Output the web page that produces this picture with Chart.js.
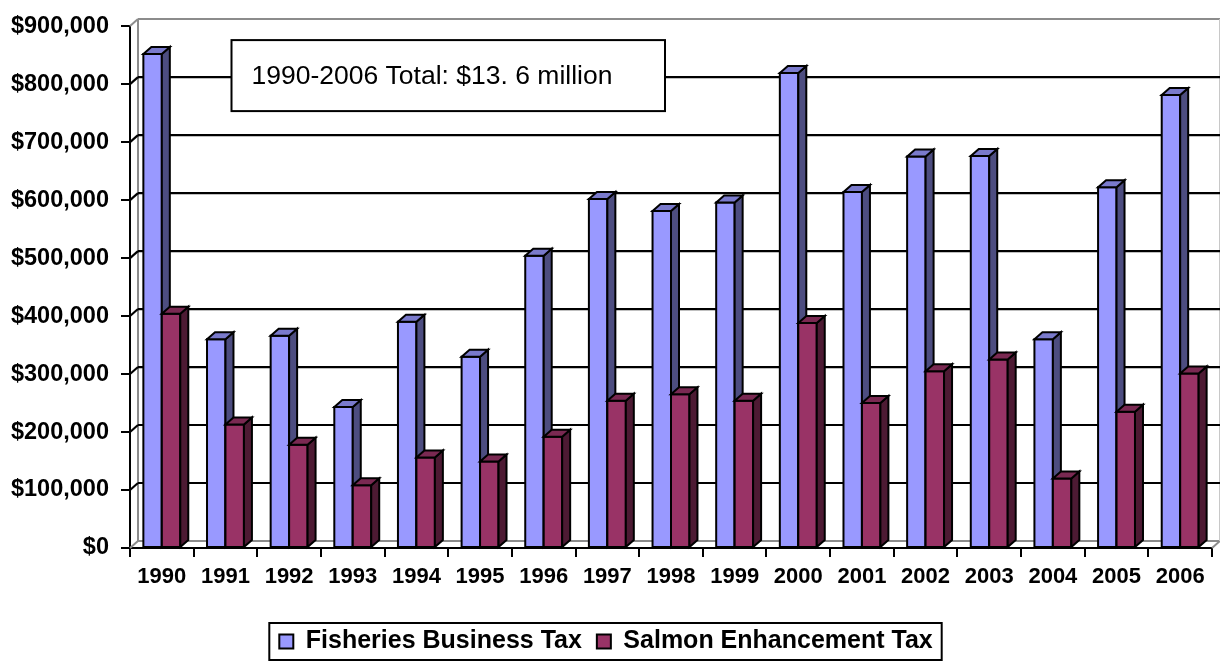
<!DOCTYPE html>
<html>
<head>
<meta charset="utf-8">
<script src="https://cdn.jsdelivr.net/npm/chart.js@4.4.1/dist/chart.umd.min.js"></script>
<style>
  html, body { margin: 0; padding: 0; background: #ffffff; }
  #wrap { width: 1220px; height: 667px; position: relative; }
</style>
</head>
<body>
<div id="wrap"><canvas id="chart"></canvas></div>
<script>
// ---------- data ----------
const years = ['1990','1991','1992','1993','1994','1995','1996','1997','1998','1999','2000','2001','2002','2003','2004','2005','2006'];
const fisheriesBusinessTax = [852000, 360000, 366000, 243000, 390000, 330000, 504000, 602000, 581000, 596000, 819000, 614000, 675000, 676000, 360000, 622000, 781000];
const salmonEnhancementTax = [404000, 213000, 178000, 108000, 156000, 149000, 192000, 254000, 265000, 254000, 388000, 250000, 305000, 325000, 120000, 235000, 301000];
const seriesNames = ['Fisheries Business Tax', 'Salmon Enhancement Tax'];
const yAxisMin = 0;
const yAxisMax = 900000;
const yAxisStep = 100000;
const annotationText = '1990-2006 Total: $13. 6 million';

// ---------- styles ----------
const FONT = '"Liberation Sans", Arial, Helvetica, sans-serif';
const faceColors = ['#9999FF', '#993366'];
const sideColors = ['#4D4D80', '#4D1A33'];
const topColors  = ['#7A7ACC', '#7A2952'];
const DX = 8, DY = -7;   // 3-D depth offset

function poly(ctx, pts, fill) {
  ctx.beginPath();
  ctx.moveTo(pts[0][0], pts[0][1]);
  for (let i = 1; i < pts.length; i++) ctx.lineTo(pts[i][0], pts[i][1]);
  ctx.closePath();
  ctx.fillStyle = fill;
  ctx.fill();
  ctx.stroke();
}
function line(ctx, x1, y1, x2, y2) {
  ctx.beginPath(); ctx.moveTo(x1, y1); ctx.lineTo(x2, y2); ctx.stroke();
}

const threeD = {
  id: 'threeD',
  beforeDatasetsDraw(chart) {
    const ctx = chart.ctx, a = chart.chartArea, ys = chart.scales.y;
    ctx.save();
    ctx.lineWidth = 2;
    ctx.strokeStyle = '#8C8C8C';
    line(ctx, a.left + DX, a.top + DY, a.left + DX, a.bottom + DY);
    line(ctx, a.left + DX, a.top + DY, a.right + DX, a.top + DY);
    line(ctx, a.left, a.top, a.left + DX, a.top + DY);
    line(ctx, a.left + DX, a.bottom + DY, a.right + DX, a.bottom + DY);
    line(ctx, a.left, a.bottom, a.left + DX, a.bottom + DY);
    line(ctx, a.right, a.bottom, a.right + DX, a.bottom + DY);
    ctx.strokeStyle = '#C8C8C8';
    line(ctx, a.right + DX, a.top + DY, a.right + DX, a.bottom + DY);
    ctx.strokeStyle = '#000000';
    ctx.lineWidth = 2.2;
    ys.ticks.forEach(t => {
      if (t.value <= ys.min || t.value >= ys.max) return;
      const py = ys.getPixelForValue(t.value);
      line(ctx, a.left, py, a.left + DX, py + DY);
      line(ctx, a.left + DX, py + DY, a.right + DX, py + DY);
    });
    ctx.restore();
  },
  beforeDatasetDraw() { return false; },
  afterDatasetsDraw(chart) {
    const ctx = chart.ctx, a = chart.chartArea;
    const metas = chart.data.datasets.map((d, i) => chart.getDatasetMeta(i));
    const n = chart.data.labels.length;
    ctx.save();
    ctx.lineWidth = 2;
    ctx.lineJoin = 'miter';
    ctx.strokeStyle = '#000000';
    for (let i = 0; i < n; i++) {
      for (let d = 0; d < metas.length; d++) {
        const p = metas[d].data[i].getProps(['x', 'y', 'base', 'width'], true);
        const l = p.x - p.width / 2, r = p.x + p.width / 2, t = p.y, b = p.base;
        poly(ctx, [[l, t], [r, t], [r, b], [l, b]], faceColors[d]);
        poly(ctx, [[r, t], [r + DX, t + DY], [r + DX, b + DY], [r, b]], sideColors[d]);
        poly(ctx, [[l, t], [l + DX, t + DY], [r + DX, t + DY], [r, t]], topColors[d]);
      }
    }
    // annotation box
    const bx = a.left + 101.5, by = a.top + 14, bw = 433.5, bh = 71;
    ctx.fillStyle = '#ffffff';
    ctx.fillRect(bx, by, bw, bh);
    ctx.strokeRect(bx, by, bw, bh);
    ctx.fillStyle = '#000000';
    ctx.font = '26.5px ' + FONT;
    ctx.textBaseline = 'middle';
    ctx.textAlign = 'left';
    ctx.fillText(annotationText, bx + 20, by + bh / 2 + 1);
    ctx.restore();
  },
  afterDraw(chart) {
    const lg = chart.legend;
    if (!lg || !lg.legendHitBoxes || !lg.legendHitBoxes.length) return;
    const hb = lg.legendHitBoxes;
    const last = hb[hb.length - 1];
    const left = hb[0].left - 10;
    const right = last.left + last.width + 9;
    const cy = hb[0].top + hb[0].height / 2;
    const ctx = chart.ctx;
    ctx.save();
    ctx.lineWidth = 2;
    ctx.strokeStyle = '#000000';
    ctx.strokeRect(left, cy - 18.5, right - left, 37);
    ctx.restore();
  }
};

new Chart(document.getElementById('chart'), {
  type: 'bar',
  data: {
    labels: years,
    datasets: [
      { label: seriesNames[0], data: fisheriesBusinessTax, backgroundColor: faceColors[0], borderColor: '#000000', borderWidth: 2 },
      { label: seriesNames[1], data: salmonEnhancementTax, backgroundColor: faceColors[1], borderColor: '#000000', borderWidth: 2 }
    ]
  },
  plugins: [threeD],
  options: {
    responsive: true,
    maintainAspectRatio: false,
    devicePixelRatio: 1,
    animation: false,
    events: [],
    layout: { padding: { left: 0, right: 8, top: 18, bottom: 3 } },
    datasets: { bar: { categoryPercentage: 0.58, barPercentage: 1.0 } },
    scales: {
      x: {
        type: 'category',
        offset: true,
        grid: { display: true, drawOnChartArea: false, drawTicks: true, tickLength: 9, color: '#000000', lineWidth: 2, offset: true },
        border: { display: true, color: '#000000', width: 2 },
        ticks: { color: '#000000', font: { family: FONT, size: 22, weight: 'bold' }, padding: 7, maxRotation: 0, autoSkip: false },
        afterFit(scale) { scale.height = 66; }
      },
      y: {
        min: yAxisMin,
        max: yAxisMax,
        grid: { display: true, drawOnChartArea: false, drawTicks: true, tickLength: 9, color: '#000000', lineWidth: 2 },
        border: { display: true, color: '#000000', width: 2 },
        ticks: {
          stepSize: yAxisStep,
          color: '#000000',
          padding: 12,
          font: { family: FONT, size: 23.5, weight: 'bold' },
          callback: v => '$' + Number(v).toLocaleString('en-US')
        },
        afterFit(scale) { scale.width = 130; }
      }
    },
    plugins: {
      tooltip: { enabled: false },
      legend: {
        position: 'bottom',
        labels: {
          color: '#000000',
          boxWidth: 14,
          boxHeight: 14,
          padding: 15,
          font: { family: FONT, size: 25, weight: 'bold' }
        }
      }
    }
  }
});
</script>
</body>
</html>
